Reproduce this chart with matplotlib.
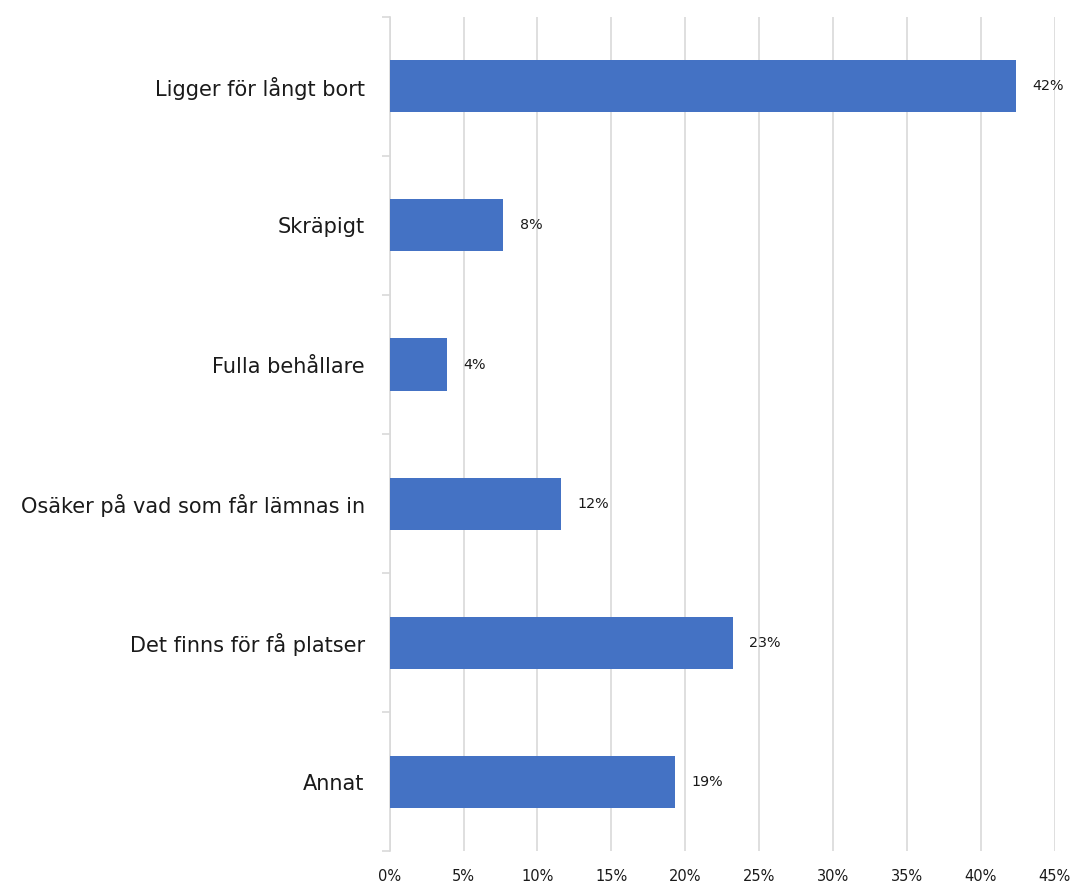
import matplotlib
matplotlib.use("Agg")
import matplotlib.pyplot as plt
import numpy as np
from matplotlib.ticker import FuncFormatter, FixedLocator

categories = ["Ligger för långt bort", "Skräpigt", "Fulla behållare",
              "Osäker på vad som får lämnas in", "Det finns för få platser", "Annat"]
values = [42.4, 7.7, 3.9, 11.6, 23.2, 19.3]
labels = ["42%", "8%", "4%", "12%", "23%", "19%"]
xticks = [0, 5, 10, 15, 20, 25, 30, 35, 40, 45]

plt.rcParams['font.family'] = ['DejaVu Sans']

fig = plt.figure(figsize=(10.72, 8.84), dpi=100)
ax = fig.add_axes([0.3635, 0.037, 0.6205, 0.944])

n = len(categories)
y = np.arange(n)
ax.barh(y, values, height=0.375, color="#4472C4", zorder=3)
for yi, v, lab in zip(y, values, labels):
    ax.text(v + 1.1, yi, lab, va="center", ha="left", fontsize=10.3, color="#1a1a1a")

ax.set_ylim(n - 0.5, -0.5)
ax.set_xlim(0, 45)
ax.set_xticks(xticks)
ax.xaxis.set_major_formatter(FuncFormatter(lambda v, p: f"{int(v)}%"))
ax.tick_params(axis="x", length=0, labelsize=10.5, pad=13, colors="#1a1a1a")
ax.grid(axis="x", color="#d9d9d9", linewidth=1.2, zorder=0)

ax.set_yticks(y)
ax.set_yticklabels(categories, fontsize=15.0, color="#1a1a1a")
ax.yaxis.set_minor_locator(FixedLocator(np.arange(-0.5, n, 1.0)))
ax.tick_params(axis="y", which="major", length=0, pad=18)
ax.tick_params(axis="y", which="minor", length=6, color="#d9d9d9", width=1.2)

for s in ["top", "right", "bottom"]:
    ax.spines[s].set_visible(False)
ax.spines["left"].set_color("#d9d9d9")
ax.spines["left"].set_linewidth(1.2)

fig.savefig("out.png", dpi=100)
